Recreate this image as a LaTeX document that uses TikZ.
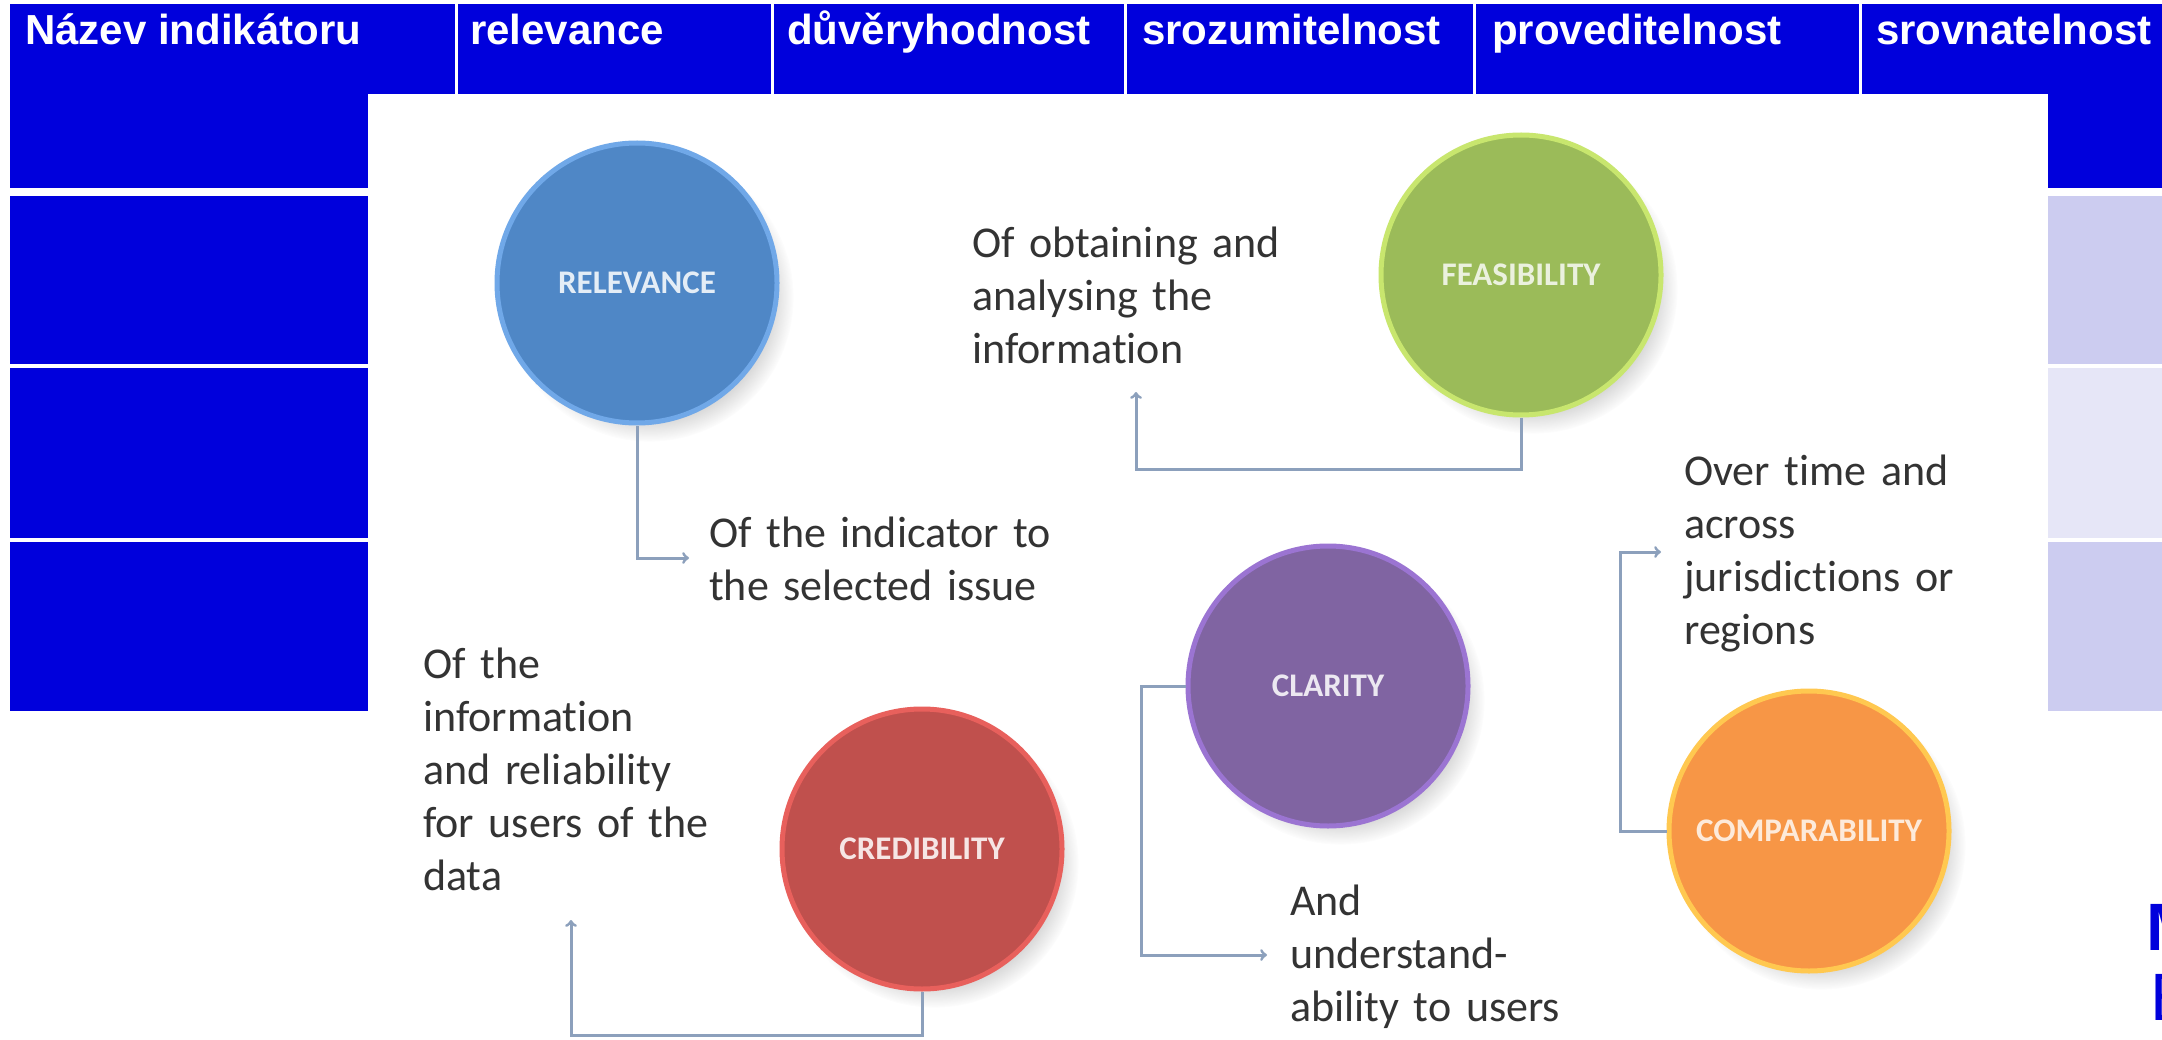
\documentclass[tikz,border=0pt]{standalone}
\usepackage{fontspec}
\setmainfont{Carlito}[Ligatures=NoCommon]
\newfontfamily\arialfont{Liberation Sans}
\usetikzlibrary{arrows,positioning,shadows}
\definecolor{tabmodra}{RGB}{0,0,220}
\definecolor{tabsvetla}{RGB}{204,204,240}
\definecolor{tabsvetlejsi}{RGB}{230,230,247}
\definecolor{sipkabarva}{RGB}{140,160,188}
\definecolor{relvypln}{RGB}{79,135,198}
\definecolor{relokraj}{RGB}{112,168,232}
\definecolor{feasvypln}{RGB}{155,187,89}
\definecolor{feasokraj}{RGB}{200,230,110}
\definecolor{clavypln}{RGB}{128,100,162}
\definecolor{claokraj}{RGB}{155,116,210}
\definecolor{credvypln}{RGB}{192,80,77}
\definecolor{credokraj}{RGB}{232,96,92}
\definecolor{compvypln}{RGB}{247,150,70}
\definecolor{compokraj}{RGB}{255,200,80}
\tikzset{
    >=to,
    kruh/.style={
           circle,
           minimum size=280pt,
           inner sep=0pt,
           line width=5pt,
           font=\fontsize{33}{33}\selectfont\bfseries,
           circular drop shadow={shadow xshift=12pt, shadow yshift=-14pt,
                                 shadow scale=1.03, opacity=.25, fill=black!60}},
    popis/.style={
           anchor=base west,
           inner sep=0pt,
           text width=400pt,
           align=left,
           text=black!80,
           font=\fontsize{44}{53}\selectfont},
    hlavicka/.style={
           anchor=base west,
           inner sep=0pt,
           text=white,
           font=\arialfont\bfseries\fontsize{42}{42}\selectfont},
    sipka/.style={
           ->,
           line width=3pt,
           draw=sipkabarva}
}
\begin{document}
\begin{tikzpicture}[x=1pt, y=-1pt]
        \useasboundingbox (0,0) rectangle (2162,1040);
        \clip (0,0) rectangle (2162,1040);

        % tabulka pod obrazkem
        \foreach \xa/\xb in {10/455, 458/771, 774/1124, 1127/1473, 1476/1859, 1862/2170}
            \fill[tabmodra] (\xa,4) rectangle (\xb,188);
        \foreach \ya/\yb in {196/364, 368/538, 542/711}
            \fill[tabmodra] (10,\ya) rectangle (455,\yb);
        \fill[tabsvetla] (1862,196) rectangle (2170,364);
        \fill[tabsvetlejsi] (1862,368) rectangle (2170,538);
        \fill[tabsvetla] (1862,542) rectangle (2170,711);

        \node[hlavicka] (nazev) at (25,45) {Název indikátoru};
        \node[hlavicka] (relh) at (470,45) {relevance};
        \node[hlavicka] (duvh) at (787,45) {důvěryhodnost};
        \node[hlavicka] (srozh) at (1142,45) {srozumitelnost};
        \node[hlavicka] (provh) at (1492,45) {proveditelnost};
        \node[hlavicka] (srovh) at (1876,45) {srovnatelnost};

        \node[anchor=base west, inner sep=0pt, text=tabmodra,
              font=\arialfont\bfseries\fontsize{67}{67}\selectfont] (mpis) at (2146,950) {M};
        \node[anchor=base west, inner sep=0pt, text=tabmodra,
              font=\arialfont\fontsize{67}{67}\selectfont] (epis) at (2150,1020) {E};

        % obrazek
        \fill[white] (368,94) rectangle (2048,1045);

        \node[kruh, fill=relvypln, draw=relokraj, text=white!85!relvypln] (rel) at (637,283) {RELEVANCE};
        \node[kruh, fill=feasvypln, draw=feasokraj, text=white!80!feasvypln] (feas) at (1521,275) {FEASIBILITY};
        \node[kruh, fill=clavypln, draw=claokraj, text=white!85!clavypln] (cla) at (1328,686) {CLARITY};
        \node[kruh, fill=credvypln, draw=credokraj, text=white!85!credvypln] (cred) at (922,849) {CREDIBILITY};
        \node[kruh, fill=compvypln, draw=compokraj, text=white!80!compvypln] (comp) at (1809,831) {COMPARABILITY};

        \node[popis] (reltx) at (709,547) {Of the indicator to\\the selected issue};
        \node[popis] (feastx) at (972,258) {Of obtaining and\\analysing the\\information};
        \node[popis] (comptx) at (1684,485) {Over time and\\across\\jurisdictions or\\regions};
        \node[popis] (credtx) at (423,678) {Of the\\information\\and reliability\\for users of the\\data};
        \node[popis] (clatx) at (1290,915) {And\\understand-\\ability to users};

        \coordinate (relkon) at (689,558);
        \coordinate (feaskon) at (1136,392);
        \coordinate (compkon) at (1661,552);
        \coordinate (clakon) at (1267,955);
        \coordinate (credkon) at (571,920);

        \draw[sipka] (rel.south) |- (relkon);
        \draw[sipka] (feas.south) -- ++(0,52) -| (feaskon);
        \draw[sipka] (comp.west) -- ++(-46,0) |- (compkon);
        \draw[sipka] (cla.west) -- ++(-44,0) |- (clakon);
        \draw[sipka] (cred.south) -- ++(0,44) -| (credkon);

    \end{tikzpicture}
\end{document}
